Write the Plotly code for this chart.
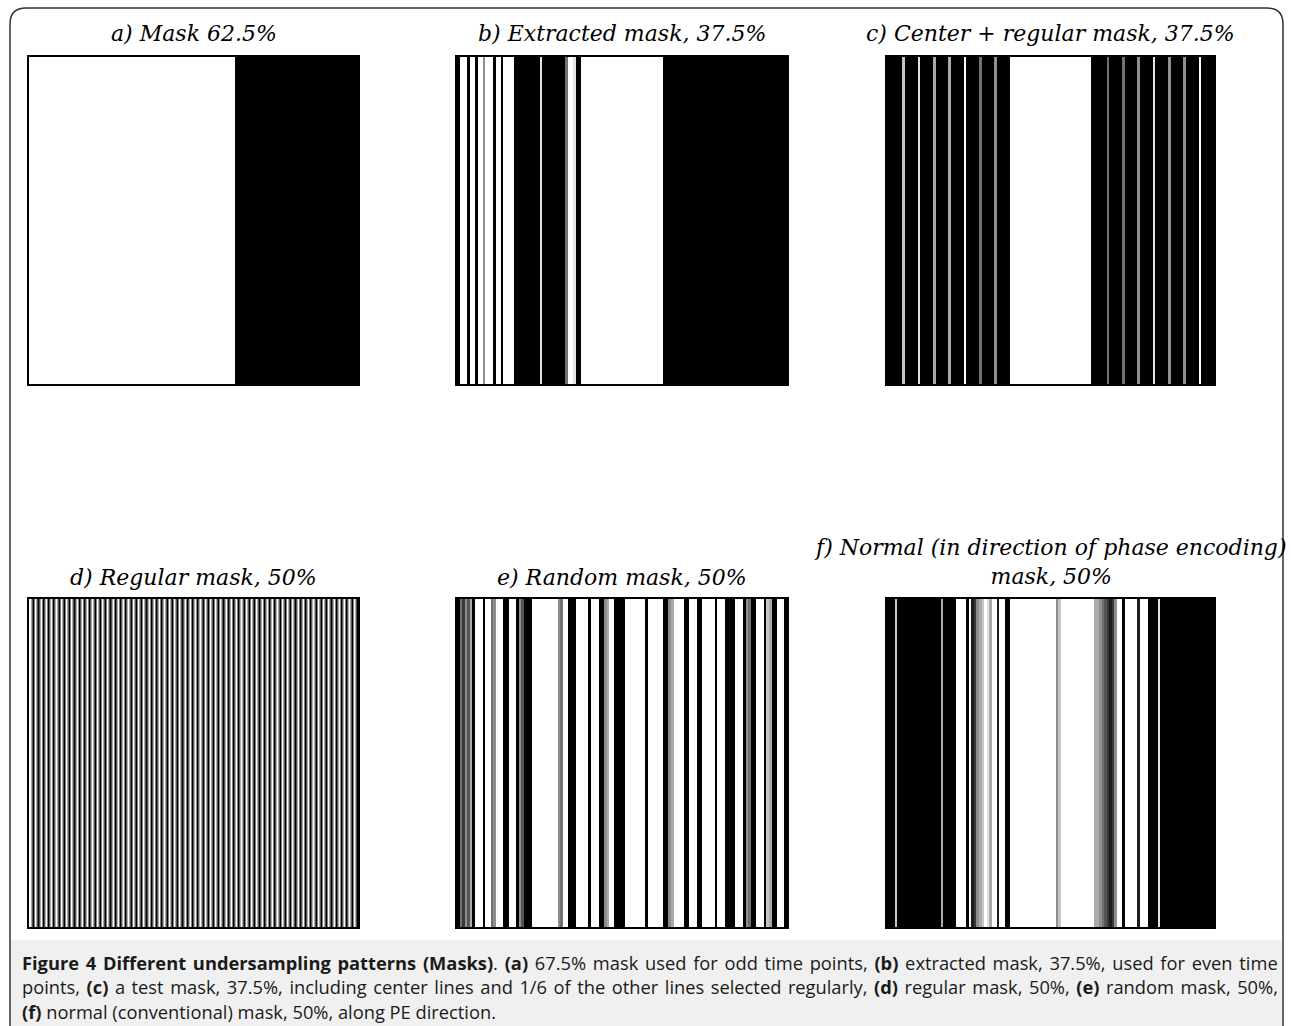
import plotly.graph_objects as go

# Undersampling masks: 128 phase-encode lines each, one digit per line.
# '9' = acquired line (white), '0' = skipped line (black); middle digits are partial greys.
MASK_A = ("99999999999999999999999999999999"
          "99999999999999999999999999999999"
          "99999999999999990000000000000000"
          "00000000000000000000000000000000")
MASK_B = ("09990990995999099099990000000000"
          "80000000004998009999999999999999"
          "99999999999999990000000000000000"
          "00000000000000000000000000000000")
MASK_C = ("00000070000080000060000060000090"
          "00004000005000009999999999999999"
          "99999999999999990000004000004000"
          "00500000800000500000500000900000")
MASK_D = ("90909090909090909090909090909090"
          "90909090909090909090909090909090"
          "90909090909090909090909090909090"
          "90909090909090909090909090909090")
MASK_E = ("04253609990994599900999053000999"
          "99999995499000999990999005699000"
          "09999999909999990056999900999009"
          "99990999000099905400999076009990")
MASK_F = ("00070000000000000000060000099990"
          "91256798699199009999999999999999"
          "99579999999999999665432125990999"
          "99199900008000000000000000000000")

TITLES = ["a) Mask 62.5%", "b) Extracted mask, 37.5%", "c) Center + regular mask, 37.5%",
          "d) Regular mask, 50%", "e) Random mask, 50%",
          "f) Normal (in direction of phase encoding)<br>mask, 50%"]

CAPTION = [
    "<b>Figure 4 Different undersampling patterns (Masks)</b>. <b>(a)</b> 67.5% mask used for odd time points, "
    "<b>(b)</b> extracted mask, 37.5%, used for even time",
    "points, <b>(c)</b> a test mask, 37.5%, including center lines and 1/6 of the other lines selected regularly, "
    "<b>(d)</b> regular mask, 50%, <b>(e)</b> random mask, 50%,",
    "<b>(f)</b> normal (conventional) mask, 50%, along PE direction.",
]
# extra word spacing so the first two caption lines fill the full width (justified look)
CAPTION_SPACING = [2.0, 1.8, 0]

W, H = 1293, 1026


def px(x):
    return x / W


def py(y):
    return 1 - y / H


def decode(s):
    return [int(c) / 9 for c in s]


masks = [MASK_A, MASK_B, MASK_C, MASK_D, MASK_E, MASK_F]
# panel boxes in pixels: (left, right, top, bottom)
boxes = [(29, 358, 57, 384), (457, 787, 57, 384), (887, 1214, 57, 384),
         (29, 358, 599, 927), (457, 787, 599, 927), (887, 1214, 599, 927)]

fig = go.Figure()
layout_axes = {}
for i, (m, (l, r, t, b)) in enumerate(zip(masks, boxes)):
    vals = decode(m)
    n = len(vals)
    k = "" if i == 0 else str(i + 1)
    fig.add_trace(go.Heatmap(
        z=[vals, vals], x=list(range(n)), y=[0, 1],
        colorscale=[[0, "#000000"], [1, "#ffffff"]], zmin=0, zmax=1,
        showscale=False, hoverinfo="skip",
        zsmooth="best" if i == 3 else False,
        xaxis="x" + k, yaxis="y" + k))
    ax = dict(domain=[px(l), px(r)], showticklabels=False, showgrid=False, zeroline=False,
              showline=True, mirror=True, linecolor="#000000", linewidth=2, ticks="",
              fixedrange=True)
    layout_axes["xaxis" + k] = dict(ax, range=[-0.5, n - 0.5], anchor="y" + k)
    layout_axes["yaxis" + k] = dict(ax, domain=[py(b), py(t)], range=[-0.5, 1.5], anchor="x" + k)

fig.update_layout(**layout_axes)

annotations = []
title_y = [33, 33, 33, 577, 577, 562]
for i, (txt, (l, r, t, b)) in enumerate(zip(TITLES, boxes)):
    annotations.append(dict(
        text=txt, x=px((l + r) / 2), y=py(title_y[i]), xref="paper", yref="paper",
        xanchor="center", yanchor="middle", showarrow=False,
        font=dict(family="DejaVu Serif", size=22, style="italic", color="#000000"),
        align="center"))

for j, (line, ws) in enumerate(zip(CAPTION, CAPTION_SPACING)):
    annotations.append(dict(
        text=f'<span style="word-spacing:{ws}px">{line}</span>' if ws else line,
        x=px(20), y=py(962 + 24.5 * j), xref="paper", yref="paper",
        xanchor="left", yanchor="middle", showarrow=False, align="left",
        font=dict(family="Open Sans", size=18.3, color="#1a1a1a")))

# rounded outer frame (bottom edge runs below the page) and caption band
L, R, T, B, rad = 10, 1283, 8, 1045, 16
frame_path = (f"M {px(L + rad)},{py(T)} L {px(R - rad)},{py(T)} "
              f"Q {px(R)},{py(T)} {px(R)},{py(T + rad)} L {px(R)},{py(B - rad)} "
              f"Q {px(R)},{py(B)} {px(R - rad)},{py(B)} L {px(L + rad)},{py(B)} "
              f"Q {px(L)},{py(B)} {px(L)},{py(B - rad)} L {px(L)},{py(T + rad)} "
              f"Q {px(L)},{py(T)} {px(L + rad)},{py(T)} Z")
shapes = [
    dict(type="rect", xref="paper", yref="paper", x0=px(L + 1), x1=px(R - 1), y0=py(H + 5), y1=py(940),
         fillcolor="#f0f0f0", line=dict(width=0), layer="below"),
    dict(type="path", xref="paper", yref="paper", path=frame_path,
         line=dict(color="#333333", width=1.5), layer="above"),
]

fig.update_layout(
    width=W, height=H, margin=dict(l=0, r=0, t=0, b=0),
    paper_bgcolor="#ffffff", plot_bgcolor="#ffffff",
    annotations=annotations, shapes=shapes, showlegend=False)

fig.write_html("out.html", config={"displayModeBar": False})
